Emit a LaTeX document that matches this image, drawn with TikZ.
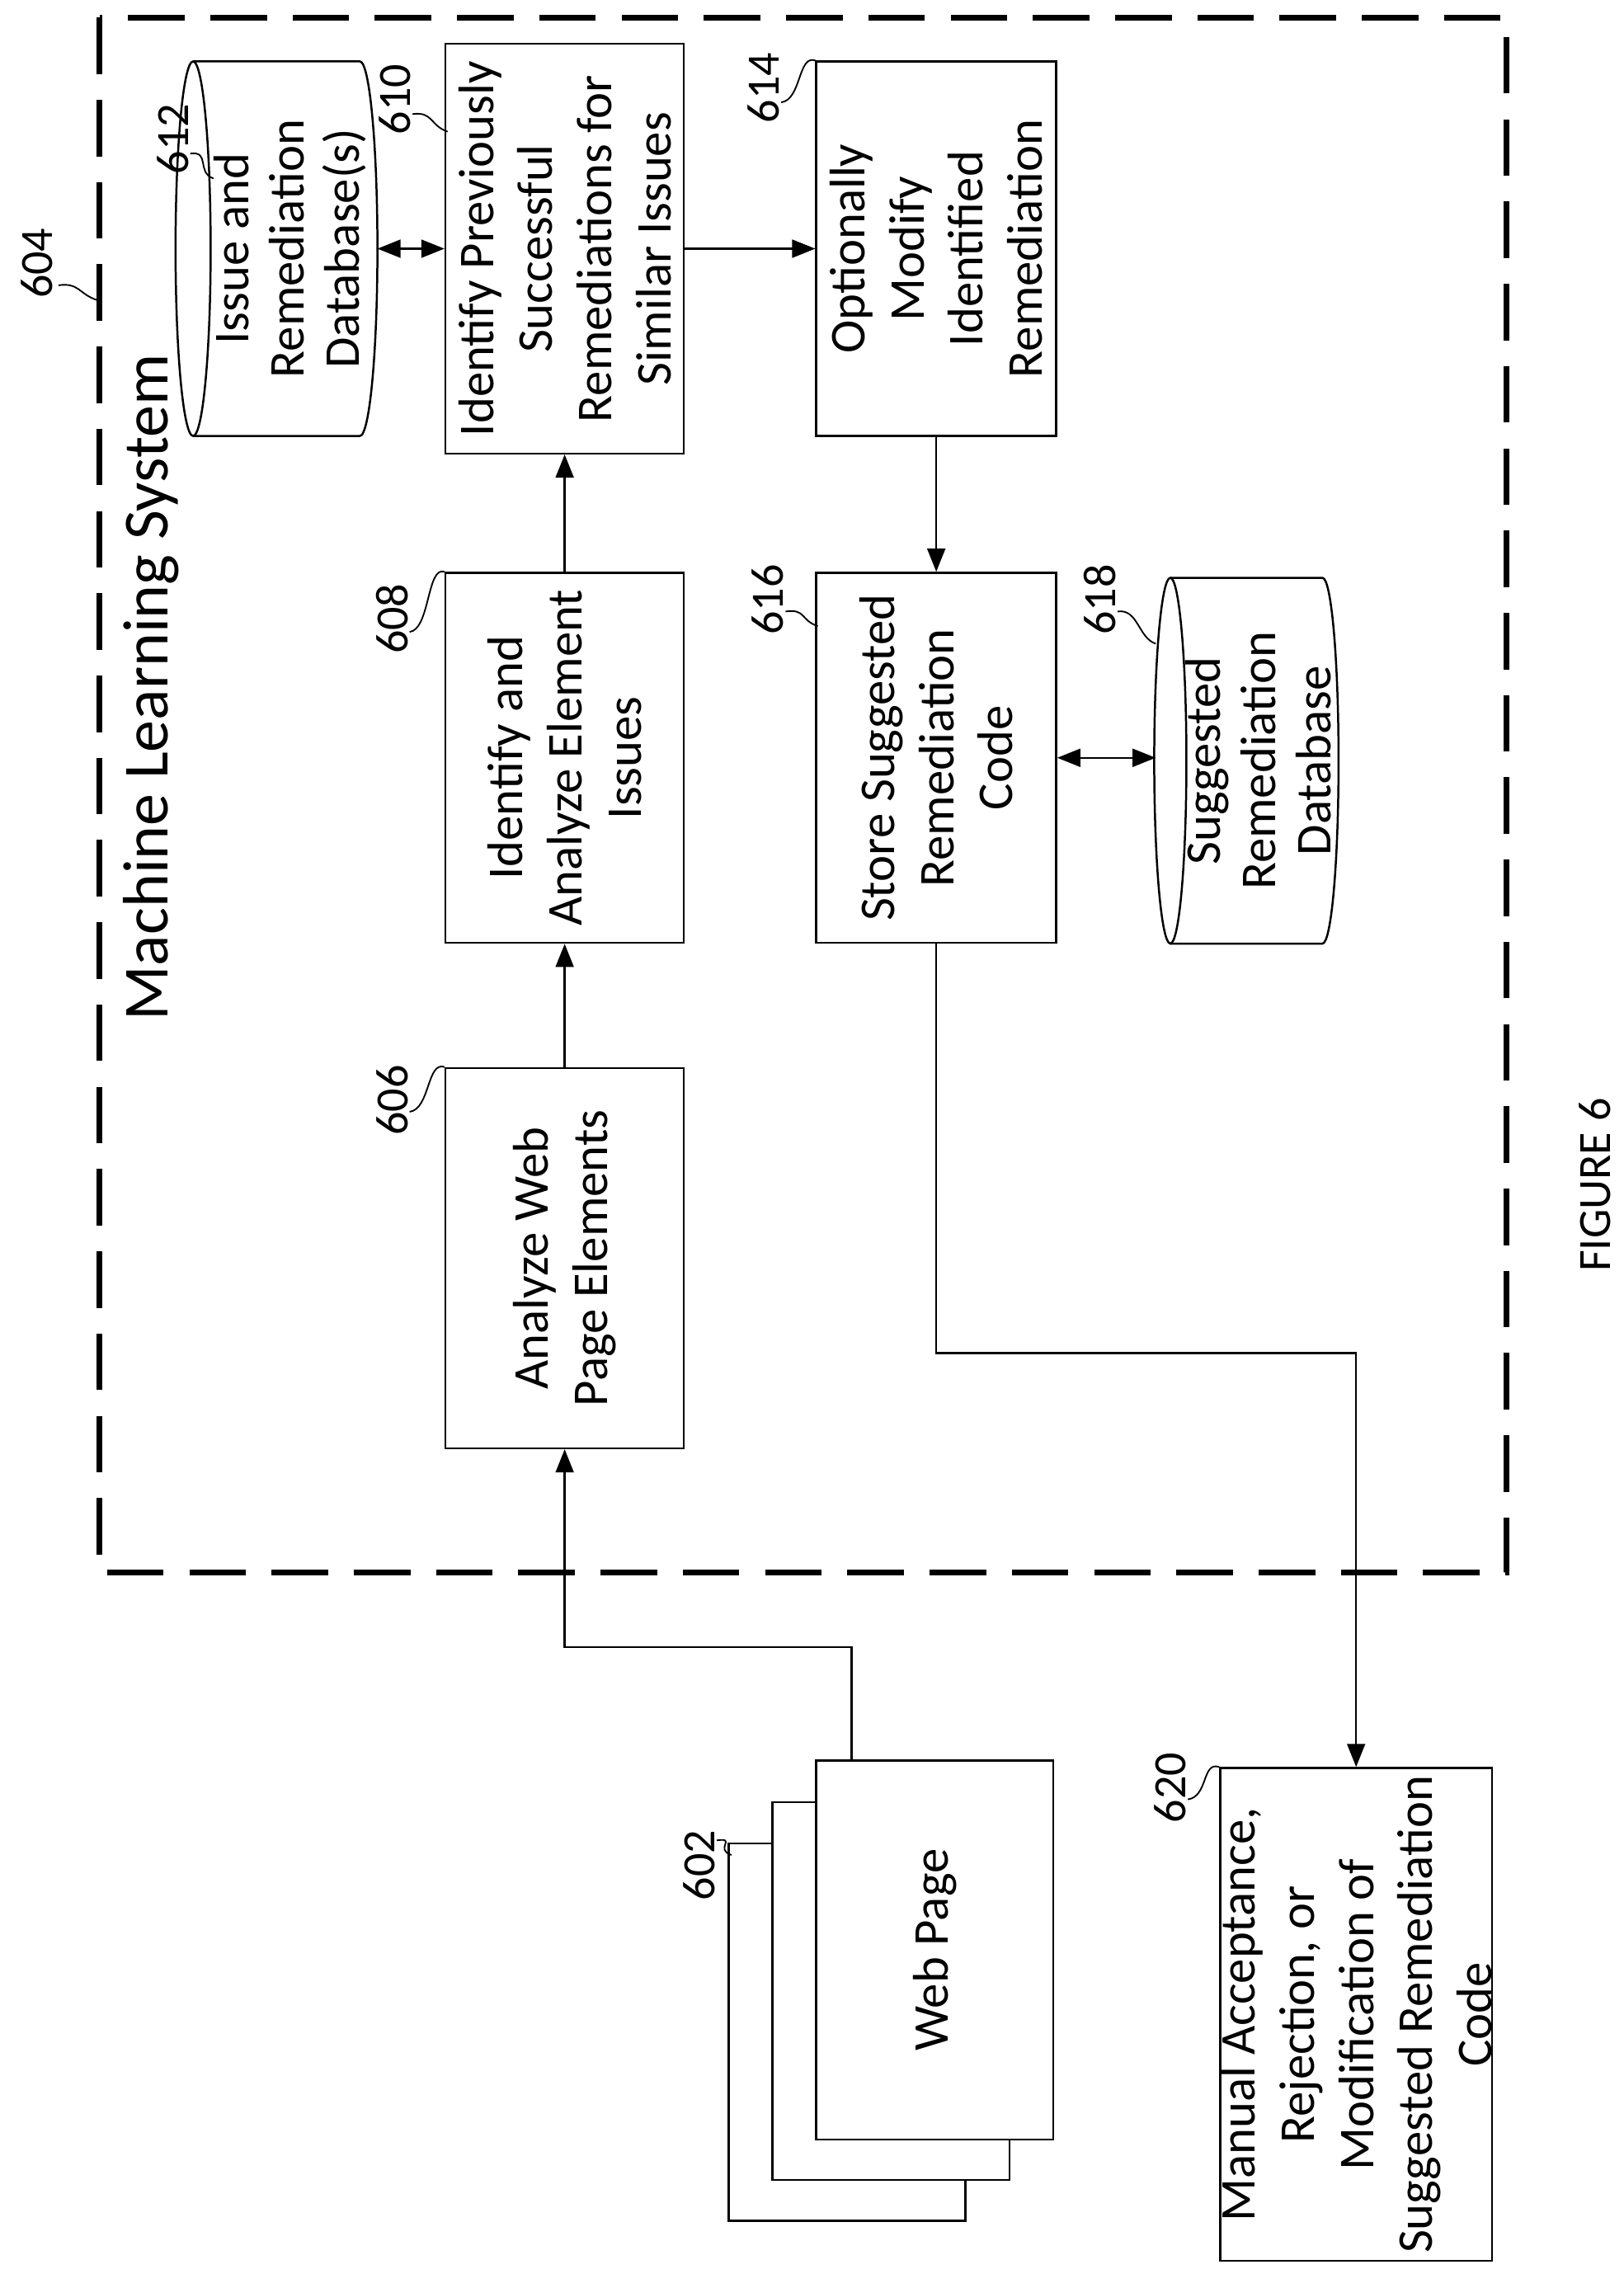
\documentclass[tikz,border=0pt]{standalone}
\usepackage{fontspec}
\setmainfont{Carlito}
\usetikzlibrary{arrows.meta}
\usetikzlibrary{calc}

\begin{document}
\begin{tikzpicture}[
            x = 0.02cm, y = -0.02cm, % pixel grid of the figure
            >= {Triangle[length=9pt,width=7pt]}, % arrow head style
            thick
        ]

        \tikzset{
            block/.style = {draw, rotate = 90, align = center, inner sep = 0pt,
                font = \fontsize{19.5}{23}\selectfont},
            drum/.style = {rotate = 90, align = center, inner sep = 0pt,
                font = \fontsize{19.5}{21.5}\selectfont},
            ref/.style = {rotate = 90, font = \fontsize{18}{20}\selectfont}
        }
        \newcommand{\squig}[2]{\draw[semithick] (#1) .. controls +(14,-2) and +(-12,-4) .. (#2);}

        \useasboundingbox (0,0) rectangle (1110,1564);

        % machine learning system frame
        \draw[line width = 2.2pt, dash pattern = on 22pt off 10pt] (68,12) rectangle (1030,1075);
        \node[rotate = 90, font = \fontsize{25}{30}\selectfont] (mls) at (103,470) {Machine Learning System};
        \node[ref] (l604) at (25,180) {604};
        \coordinate (t604) at (66,205);
        \squig{40,195}{t604}

        % blocks
        \node[block, minimum width = 5.2cm, minimum height = 3.26cm] (b606) at (386,860) {Analyze Web\\Page Elements};
        \node[block, minimum width = 5.06cm, minimum height = 3.26cm] (b608) at (386,518) {Identify and\\Analyze Element\\Issues};
        \node[block, minimum width = 5.6cm, minimum height = 3.26cm] (b610) at (386,170) {Identify Previously\\Successful\\Remediations for\\Similar Issues};
        \node[block, minimum width = 5.12cm, minimum height = 3.28cm] (b614) at (640,170) {Optionally\\Modify\\Identified\\Remediation};
        \node[block, minimum width = 5.06cm, minimum height = 3.28cm] (b616) at (640,518) {Store Suggested\\Remediation\\Code};
        \node[block, minimum width = 6.74cm, minimum height = 3.58cm] (b620) at (927,1377) {Manual Acceptance,\\Rejection, or\\Modification of\\Suggested Remediation\\Code};

        % databases
        \node[drum, minimum width = 5.12cm, minimum height = 2.3cm] (db612) at (198,170) {Issue and\\Remediation\\Database(s)};
        \draw (132,170) ellipse [x radius = 12, y radius = 128];
        \draw (132,42) -- (246,42) arc [start angle = 270, end angle = 450, x radius = 12, y radius = 128] -- (132,298);
        \node[drum, minimum width = 5cm, minimum height = 2cm] (db618) at (860,520) {Suggested\\Remediation\\Database};
        \draw (800,520) ellipse [x radius = 11, y radius = 125];
        \draw (800,395) -- (904,395) arc [start angle = 270, end angle = 450, x radius = 11, y radius = 125] -- (800,645);

        % web page stack
        \draw[fill = white] (498,1260) rectangle (660,1518);
        \draw[fill = white] (528,1232) rectangle (690,1490);
        \node[block, fill = white, minimum width = 5.18cm, minimum height = 3.24cm] (wp) at (639,1333) {Web Page};
        \coordinate (wpout) at (582,1204);

        % reference numerals
        \node[ref] (l602) at (478,1275) {602};
        \squig{490,1258}{500,1268}
        \node[ref] (l606) at (268,752) {606};
        \squig{280,760}{b606.north east}
        \node[ref] (l608) at (268,423) {608};
        \squig{280,432}{b608.north east}
        \node[ref] (l610) at (270,68) {610};
        \squig{282,78}{306,90}
        \node[ref] (l612) at (118,95) {612};
        \squig{130,105}{146,122}
        \node[ref] (l614) at (522,60) {614};
        \squig{534,70}{b614.north east}
        \node[ref] (l616) at (525,410) {616};
        \squig{537,418}{559,428}
        \node[ref] (l618) at (752,410) {618};
        \squig{764,418}{790,440}
        \node[ref] (l620) at (800,1222) {620};
        \squig{812,1230}{b620.north east}

        % connectors
        \draw[->] (wpout) -- ++(0,-78) -| (b606.west);
        \draw[->] (b606.east) -- (b608.west);
        \draw[->] (b608.east) -- (b610.west);
        \draw[<->] (258,170) -- (b610.north);
        \draw[->] (b610.south) -- (b614.north);
        \draw[->] (b614.west) -- (b616.east);
        \draw[<->] (b616.south) -- (790,518);
        \draw[->] (b616.west) -- (b616.west |- 0,925) -| (b620.east);

        \node[rotate = 90, font = \fontsize{18}{21}\selectfont] (fig) at (1090,810) {FIGURE 6};
  \end{tikzpicture}
\end{document}
